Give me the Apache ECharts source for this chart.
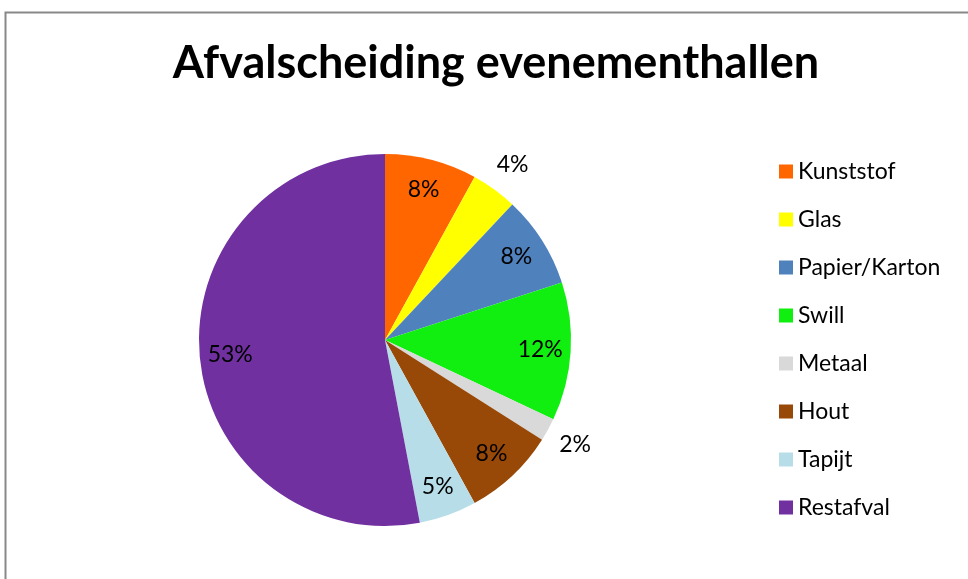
<!DOCTYPE html>
<html>
<head>
<meta charset="utf-8">
<script src="https://cdn.jsdelivr.net/npm/echarts@6/dist/echarts.min.js"></script>
<style>
  html, body { margin: 0; padding: 0; background: #fff; }
  #chart { width: 968px; height: 579px; }
</style>
</head>
<body>
<div id="chart"></div>
<script>
// data (percentages)
const categories = ['Kunststof', 'Glas', 'Papier/Karton', 'Swill', 'Metaal', 'Hout', 'Tapijt', 'Restafval'];
const values = [8, 4, 8, 12, 2, 8, 5, 53];
const colors = ['#ff6600', '#ffff00', '#4f81bd', '#10ef10', '#d9d9d9', '#984807', '#b7dee8', '#7030a0'];
// slices whose label sits outside the pie
const outsideLabel = ['Glas', 'Metaal'];

const chart = echarts.init(document.getElementById('chart'));
const fontFamily = 'Lato, "Open Sans", sans-serif';
const center = [385, 340];
const R = 186;

const pieData = categories.map((name, i) => ({
  name: name,
  value: values[i],
  itemStyle: { color: colors[i] }
}));

// transparent label rings, so the labels sit where the original put them
const labelRing = (radius, showOutside) => ({
  type: 'pie',
  silent: true,
  center: center,
  radius: radius,
  startAngle: 90,
  legendHoverLink: false,
  itemStyle: { color: 'transparent', borderWidth: 0 },
  emphasis: { disabled: true },
  labelLine: { show: false },
  data: categories.map((name, i) => ({
    name: name,
    value: values[i],
    label: { show: outsideLabel.includes(name) === showOutside }
  })),
  label: {
    position: 'inside',
    formatter: '{c}%',
    color: '#000',
    fontSize: 23,
    fontFamily: fontFamily
  }
});

const option = {
  animation: false,
  color: colors,
  title: {
    text: 'Afvalscheiding evenementhallen',
    left: 491,
    textAlign: 'center',
    top: 36,
    textStyle: {
      fontFamily: fontFamily,
      fontWeight: 'bold',
      fontSize: 45,
      color: '#000'
    }
  },
  legend: {
    orient: 'vertical',
    left: 779,
    top: 160,
    padding: 0,
    icon: 'rect',
    itemWidth: 14,
    itemHeight: 14,
    itemGap: 25,
    data: categories,
    textStyle: {
      fontFamily: fontFamily,
      fontSize: 23,
      color: '#000'
    }
  },
  graphic: [
    {
      type: 'rect',
      left: 3,
      top: 10,
      shape: { width: 1000, height: 600 },
      style: { fill: 'none', stroke: '#888', lineWidth: 2 },
      silent: true
    }
  ],
  series: [
    {
      type: 'pie',
      center: center,
      radius: R,
      startAngle: 90,
      label: { show: false },
      labelLine: { show: false },
      itemStyle: { borderWidth: 0 },
      data: pieData
    },
    labelRing([119, R], false),
    labelRing([R, 242], true)
  ]
};

chart.setOption(option);
</script>
</body>
</html>
